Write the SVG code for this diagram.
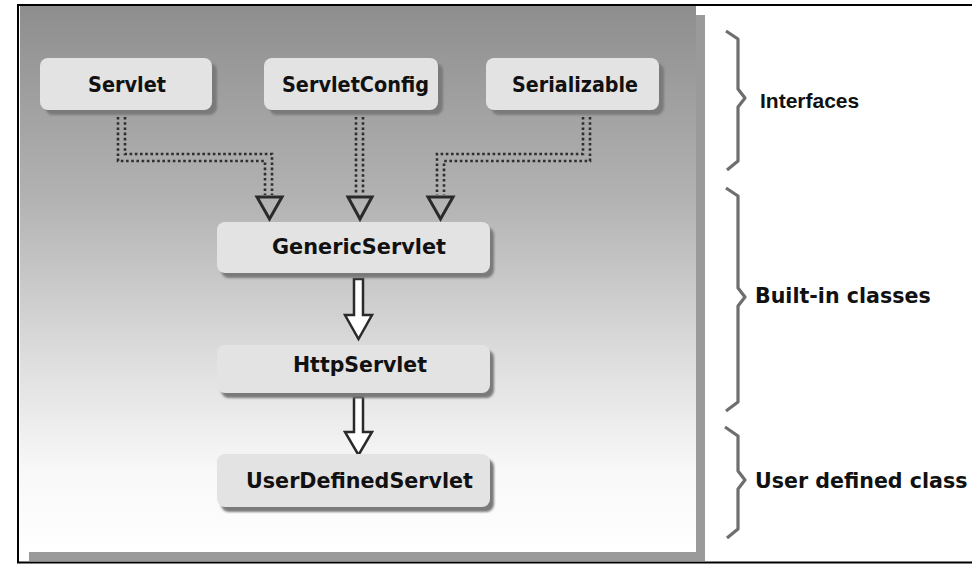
<svg xmlns="http://www.w3.org/2000/svg" width="972" height="564" viewBox="0 0 972 564">
<defs>
<linearGradient id="bg" x1="0" y1="6" x2="0" y2="552" gradientUnits="userSpaceOnUse">
<stop offset="0" stop-color="#8e8e8e"/>
<stop offset="0.35" stop-color="#b2b2b2"/>
<stop offset="0.65" stop-color="#dedede"/>
<stop offset="0.85" stop-color="#f8f8f8"/>
<stop offset="1" stop-color="#ffffff"/>
</linearGradient>
<filter id="blur" x="-10%" y="-10%" width="120%" height="130%"><feGaussianBlur stdDeviation="1"/></filter>
<style>
.box{fill:#e3e3e3}
.sh{fill:#7a7a7a;filter:url(#blur)}
.lbl{font-family:"DejaVu Sans",Verdana,sans-serif;font-weight:bold;font-size:20.5px;fill:#111;text-anchor:middle}
.side{font-family:"DejaVu Sans",Verdana,sans-serif;font-weight:bold;font-size:20.6px;fill:#111}
.dot{fill:none;stroke:#2e2e2e;stroke-width:2.6;stroke-dasharray:2.6 2.6}
.tri{fill:none;stroke:#2a2a2a;stroke-width:3;stroke-linejoin:miter}
.blk{fill:#fff;stroke:#2a2a2a;stroke-width:2.5;stroke-linejoin:miter}
.brace{fill:none;stroke:#6e6e6e;stroke-width:3.2;stroke-linejoin:round}
</style>
</defs>
<rect width="972" height="564" fill="#fff"/>
<!-- panel -->
<rect x="29" y="15" width="676" height="546" fill="#9a9a9a"/>
<rect x="20" y="6" width="676" height="546" fill="url(#bg)"/>
<!-- frame -->
<line x1="17" y1="5" x2="972" y2="5" stroke="#000" stroke-width="2"/>
<line x1="18" y1="4" x2="18" y2="563" stroke="#000" stroke-width="2"/>
<line x1="17" y1="562.5" x2="972" y2="562.5" stroke="#000" stroke-width="2"/>

<g id="connectors">
<polyline class="dot" points="118,117 118,161 265,161 265,195"/>
<polyline class="dot" points="125,117 125,154 272,154 272,195"/>
<polyline class="dot" points="356,117 356,195"/>
<polyline class="dot" points="363,117 363,195"/>
<polyline class="dot" points="590,117 590,161 444,161 444,195"/>
<polyline class="dot" points="583,117 583,154 437,154 437,195"/>
<polygon class="tri" points="257,197 282,197 269.5,219"/>
<polygon class="tri" points="348,197 372,197 360,219"/>
<polygon class="tri" points="428,197 453,197 440.5,219"/>
<polygon class="blk" points="354,279 363,279 363,315 372,315 358.5,339 345,315 354,315"/>
<polygon class="blk" points="354,397 363,397 363,432 372,432 358.5,455 345,432 354,432"/>
</g>

<g id="servlet">
<rect class="sh" x="45" y="63" width="172" height="52" rx="8"/>
<rect class="box" x="40" y="58" width="172" height="52" rx="8"/>
<text class="lbl" x="127" y="92" textLength="78" lengthAdjust="spacingAndGlyphs">Servlet</text>
</g>
<g id="servletconfig">
<rect class="sh" x="269" y="63" width="174" height="52" rx="8"/>
<rect class="box" x="264" y="58" width="174" height="52" rx="8"/>
<text class="lbl" x="355.5" y="92" textLength="147" lengthAdjust="spacingAndGlyphs">ServletConfig</text>
</g>
<g id="serializable">
<rect class="sh" x="491" y="63" width="173" height="52" rx="8"/>
<rect class="box" x="486" y="58" width="173" height="52" rx="8"/>
<text class="lbl" x="575" y="92" textLength="126" lengthAdjust="spacingAndGlyphs">Serializable</text>
</g>
<g id="genericservlet">
<rect class="sh" x="221" y="227" width="273" height="51" rx="8"/>
<rect class="box" x="217" y="222" width="273" height="51" rx="8"/>
<text class="lbl" x="359" y="254" textLength="174" lengthAdjust="spacingAndGlyphs">GenericServlet</text>
</g>
<g id="httpservlet">
<rect class="sh" x="221" y="350" width="273" height="48" rx="8"/>
<rect class="box" x="217" y="345" width="273" height="48" rx="8"/>
<text class="lbl" x="360" y="372" textLength="134" lengthAdjust="spacingAndGlyphs">HttpServlet</text>
</g>
<g id="userdefinedservlet">
<rect class="sh" x="221" y="459" width="273" height="53" rx="8"/>
<rect class="box" x="217" y="454" width="273" height="53" rx="8"/>
<text class="lbl" x="359.5" y="488" textLength="227" lengthAdjust="spacingAndGlyphs">UserDefinedServlet</text>
</g>

<g id="interfaces">
<path class="brace" d="M726,31 L738,39 L738,89 L745,98 L738,107 L738,161 L727,170"/>
<text x="760" y="108" font-family="'Liberation Sans',Arial,sans-serif" font-weight="bold" font-size="21" fill="#111">Interfaces</text>
</g>
<g id="builtin">
<path class="brace" d="M726,188 L738,196 L738,288 L745,297 L738,306 L738,402 L726,411"/>
<text class="side" x="755" y="303">Built-in classes</text>
</g>
<g id="userdefined">
<path class="brace" d="M725,427 L738,436 L738,471 L745,480 L738,489 L738,529 L727,538"/>
<text class="side" x="755" y="488">User defined class</text>
</g>
</svg>
